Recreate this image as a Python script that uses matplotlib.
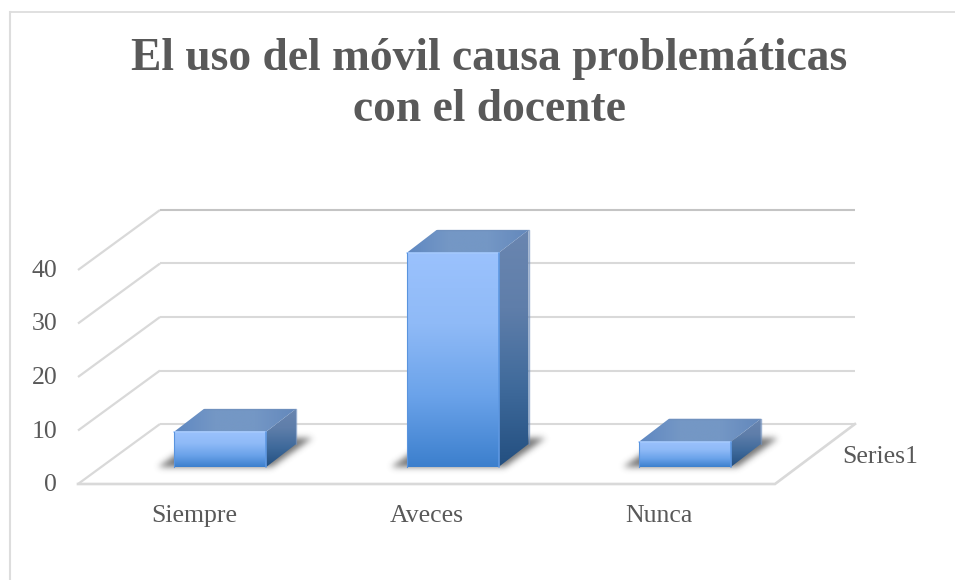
import numpy as np
import matplotlib
matplotlib.use("Agg")
import matplotlib.pyplot as plt
from matplotlib.colors import to_rgb
from matplotlib.lines import Line2D
from matplotlib.patches import Polygon
from matplotlib.path import Path
from matplotlib.transforms import ScaledTranslation

categories = ["Siempre", "Aveces", "Nunca"]
values = [6.6, 40, 4.7]
y_ticks = [0, 10, 20, 30, 40]
series_name = "Series1"
title = "El uso del móvil causa problemáticas\ncon el docente"

W, H = 955, 580
FONT = ["Liberation Serif", "DejaVu Serif"]
TXT = "#595959"
GRID = "#D9D9D9"

fig = plt.figure(figsize=(W / 100, H / 100), dpi=100, facecolor="white")
ax = fig.add_axes([78 / W, (H - 484) / H, 697 / W, 214 / H])
ax.set_xlim(-0.5, 2.5)
ax.set_ylim(0, 40)
ax.patch.set_visible(False)
for s in ax.spines.values():
    s.set_visible(False)

PX = 697 / 3
PY = 214 / 40
FLOOR_DX, FLOOR_DY = 82 / PX, 60 / PY
BASE_DX, BASE_DY = 26 / PX, 17 / PY
BAR_DX, BAR_DY = 30 / PX, 23 / PY
BAR_W = 92 / PX


def ramp(stops, n=256):
    pos = np.linspace(0, 1, len(stops))
    rgb = np.array([to_rgb(c) for c in stops])
    t = np.linspace(0, 1, n)
    return np.stack([np.interp(t, pos, rgb[:, k]) for k in range(3)], axis=1)


def face(poly, stops, horizontal=False, z=3):
    poly = np.array(poly)
    x0, x1 = poly[:, 0].min(), poly[:, 0].max()
    y0, y1 = poly[:, 1].min(), poly[:, 1].max()
    g = ramp(stops)
    img = g[:, None, :] if not horizontal else g[None, :, :]
    im = ax.imshow(img, extent=(x0, x1, y0, y1), origin="upper", aspect="auto",
                   zorder=z, interpolation="bilinear")
    patch = Polygon(poly, closed=True, transform=ax.transData, fc="none", ec="none")
    im.set_clip_path(patch)
    im.set_clip_box(fig.bbox)


def shadow(x_left, x_right, base, z=2):
    pts = np.array([
        [x_left - 17 / PX, base - 1 / PY],
        [x_right + 5 / PX, base - 1 / PY],
        [x_right + 46 / PX, base + 28 / PY],
        [x_left + 25 / PX, base + 28 / PY],
    ])
    xs = np.arange(x_left - 34 / PX, x_right + 68 / PX, 1 / PX)
    ys = np.arange(base - 14 / PY, base + 46 / PY, 1 / PY)
    gx, gy = np.meshgrid(xs, ys)
    mask = Path(pts).contains_points(np.c_[gx.ravel(), gy.ravel()]).reshape(gx.shape).astype(float)
    kernel = np.exp(-0.5 * (np.arange(-9, 10) / 3.2) ** 2)
    kernel /= kernel.sum()
    for axis in (0, 1):
        mask = np.apply_along_axis(lambda m: np.convolve(m, kernel, mode="same"), axis, mask)
    rgba = np.zeros(mask.shape + (4,))
    rgba[..., :3] = 0.25
    rgba[..., 3] = mask * 0.72
    im = ax.imshow(rgba, extent=(xs[0], xs[-1], ys[0], ys[-1]), origin="lower",
                   aspect="auto", zorder=z, interpolation="bilinear")
    im.set_clip_box(fig.bbox)


# walls and floor
BACK_END = 2.5 + FLOOR_DX - 2 / PX
for i, t in enumerate(y_ticks):
    ax.plot([-0.5, -0.5 + FLOOR_DX], [t, t + FLOOR_DY], color=GRID, lw=1.6,
            clip_on=False, zorder=1, solid_capstyle="butt")
    ax.plot([-0.5 + FLOOR_DX, BACK_END], [t + FLOOR_DY, t + FLOOR_DY],
            color="#C4C4C4" if i == len(y_ticks) - 1 else GRID, lw=1.5,
            clip_on=False, zorder=1, solid_capstyle="butt")
ax.plot([-0.5, 2.5, BACK_END], [0, 0, FLOOR_DY], color=GRID, lw=1.9,
        clip_on=False, zorder=1, solid_joinstyle="miter")

# bars
for pos, val in enumerate(values):
    xl = pos + BASE_DX - BAR_W / 2
    xr = pos + BASE_DX + BAR_W / 2
    b = BASE_DY
    t = BASE_DY + val
    shadow(xl, xr, b)
    face([(xr, b), (xr + BAR_DX, b + BAR_DY), (xr + BAR_DX, t + BAR_DY), (xr, t)],
         ["#6A86B0", "#5F7EAA", "#3F6A9B", "#234F80"])
    face([(xl, t), (xr, t), (xr + BAR_DX, t + BAR_DY), (xl + BAR_DX, t + BAR_DY)],
         ["#5F88C2", "#7497C5", "#7497C5", "#6388BC"], horizontal=True)
    face([(xl, b), (xr, b), (xr, t), (xl, t)],
         ["#9BC2FD", "#8FBAF7", "#6BA3EA", "#3C7FCD"])
    ax.plot([xl, xr], [t, t], color="#A4C9FD", lw=1.2, clip_on=False, zorder=4,
            solid_capstyle="round")
    ax.plot([xr, xr], [b, t], color="#5E98E2", lw=1.2, clip_on=False, zorder=4,
            solid_capstyle="round")
    ax.plot([xl, xl], [b, t], color="#5A94DE", lw=0.8, clip_on=False, zorder=4)
    ax.plot([xl + BAR_DX, xr + BAR_DX, xr + BAR_DX], [t + BAR_DY, t + BAR_DY, b + BAR_DY],
            color="#6F8FBC", lw=1.0, clip_on=False, zorder=4, alpha=0.7,
            solid_joinstyle="round", solid_capstyle="round")

ax.set_xticks(range(len(categories)), categories, fontsize=18.5, color=TXT, family=FONT)
ax.set_yticks(y_ticks, [str(t) for t in y_ticks], fontsize=18.5, color=TXT, family=FONT)
ax.tick_params(length=0)
ax.tick_params(axis="x", pad=15)
ax.tick_params(axis="y", pad=15)
up = ScaledTranslation(0, 1.5 / 100, fig.dpi_scale_trans)
for lab in ax.get_yticklabels():
    lab.set_transform(lab.get_transform() + up)
ax.set_xlim(-0.5, 2.5)
ax.set_ylim(0, 40)

ax.text(2.5 + FLOOR_DX - 15 / PX, 5.0, series_name, fontsize=18.5, color=TXT, family=FONT,
        ha="left", va="center", clip_on=False)

fig.text(489.5 / W, 1 - 38 / H, title, ha="center", va="top", fontsize=32.8, fontweight="bold",
         color=TXT, family=FONT, linespacing=1.28)

FRAME = "#DDDDDD"
fig.add_artist(Line2D([9.5 / W, 1], [1 - 12 / H, 1 - 12 / H], color=FRAME, lw=1.3,
                      transform=fig.transFigure))
fig.add_artist(Line2D([9.5 / W, 9.5 / W], [0, 1 - 12 / H], color=FRAME, lw=1.5,
                      transform=fig.transFigure))

fig.savefig("out.png", dpi=100)
